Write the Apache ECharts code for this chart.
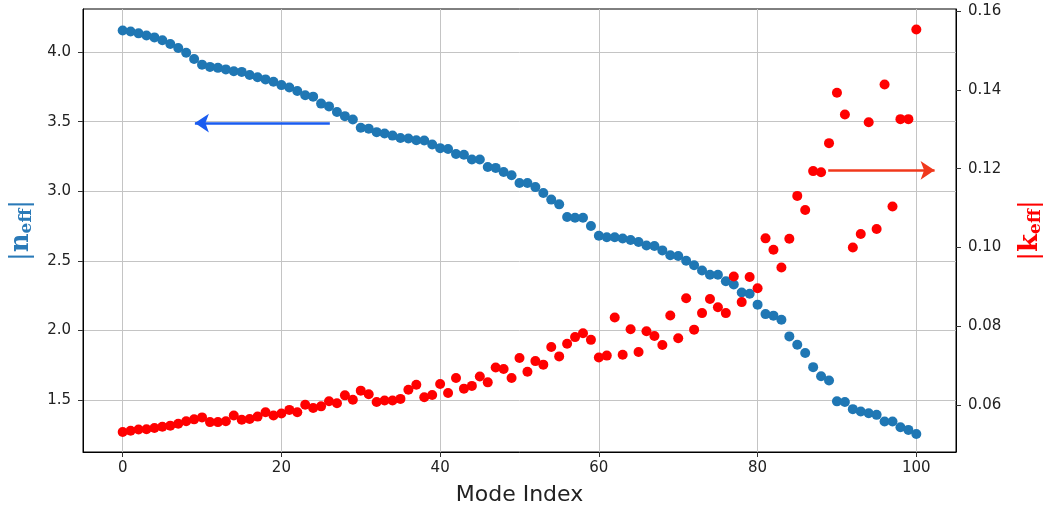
<!DOCTYPE html>
<html>
<head>
<meta charset="utf-8">
<script src="https://cdn.jsdelivr.net/npm/echarts@6/dist/echarts.min.js"></script>
<style>
  html, body { margin: 0; padding: 0; background: #fff; }
  #chart { width: 1046px; height: 512px; }
</style>
</head>
<body>
<div id="chart"></div>
<script>
// mode index 0..100
const modeIndex = Array.from({ length: 101 }, (_, i) => i)

// |n_eff| (left axis)
const nEff = [
  4.155, 4.148, 4.135, 4.12, 4.106, 4.086, 4.058, 4.03, 3.995, 3.95,
  3.91, 3.894, 3.887, 3.876, 3.863, 3.858, 3.835, 3.82, 3.804, 3.787,
  3.763, 3.746, 3.72, 3.69, 3.68, 3.63, 3.61, 3.57, 3.54, 3.516,
  3.456, 3.45, 3.425, 3.415, 3.40, 3.383, 3.379, 3.367, 3.365, 3.336,
  3.31, 3.304, 3.268, 3.263, 3.228, 3.228, 3.175, 3.168, 3.139, 3.115,
  3.06, 3.06, 3.03, 2.988, 2.94, 2.906, 2.815, 2.81, 2.81, 2.75,
  2.68, 2.67, 2.67, 2.66, 2.65, 2.635, 2.61, 2.606, 2.575, 2.54,
  2.535, 2.50, 2.468, 2.43, 2.40, 2.40, 2.353, 2.33, 2.273, 2.264,
  2.185, 2.117, 2.106, 2.077, 1.957, 1.897, 1.837, 1.736, 1.67, 1.64,
  1.49, 1.485, 1.434, 1.417, 1.405, 1.393, 1.345, 1.345, 1.304, 1.285,
  1.256
]

// |k_eff| (right axis)
const kEff = [
  0.0531, 0.0534, 0.0537, 0.0538, 0.0541, 0.0544, 0.0547, 0.0552, 0.0558, 0.0563,
  0.0568, 0.0556, 0.0556, 0.0558, 0.0573, 0.0562, 0.0564, 0.0570, 0.0581, 0.0573,
  0.0578, 0.0587, 0.0581, 0.0600, 0.0592, 0.0596, 0.0609, 0.0604, 0.0624, 0.0613,
  0.0636, 0.0627, 0.0607, 0.0611, 0.0611, 0.0615, 0.0638, 0.0651, 0.0619, 0.0625,
  0.0653, 0.0630, 0.0668, 0.0641, 0.0648, 0.0672, 0.0657, 0.0695, 0.0691, 0.0668,
  0.0719, 0.0684, 0.0711, 0.0702, 0.0747, 0.0723, 0.0755, 0.0772, 0.0782, 0.0765,
  0.0720, 0.0725, 0.0822, 0.0727, 0.0792, 0.0734, 0.0787, 0.0775, 0.0752, 0.0827,
  0.0769, 0.0871, 0.0791, 0.0833, 0.0869, 0.0848, 0.0833, 0.0926, 0.0861, 0.0925,
  0.0896, 0.1023, 0.0994, 0.0949, 0.1022, 0.1131, 0.1095, 0.1194, 0.1191, 0.1265,
  0.1393, 0.1338, 0.1000, 0.1034, 0.1318, 0.1047, 0.1414, 0.1104, 0.1326, 0.1326,
  0.1554
]

// tick labels
const xTicks = [0, 20, 40, 60, 80, 100]
const nTicks = [1.5, 2.0, 2.5, 3.0, 3.5, 4.0]
const kTicks = [0.06, 0.08, 0.10, 0.12, 0.14, 0.16]

// arrows [x0, y0, x1, y1] in data units
const nArrow = [26.1, 3.49, 9.1, 3.49]
const kArrow = [88.9, 0.1196, 102.3, 0.1196]

const blue = '#1f77b4'
const red = '#ff0000'
const labelStyle = { fontFamily: 'DejaVu Sans', fontSize: 15, color: '#222' }

const chart = echarts.init(document.getElementById('chart'))

chart.setOption({
  animation: false,
  backgroundColor: '#fff',
  grid: {
    left: 83, right: 90, top: 9, bottom: 60,
    show: true, borderColor: '#000', borderWidth: 1,
    outerBoundsMode: 'none'
  },
  xAxis: {
    type: 'value',
    min: -5, max: 105,
    name: 'Mode Index',
    nameLocation: 'middle',
    nameGap: 32,
    nameTextStyle: { fontFamily: 'DejaVu Sans', fontSize: 22, color: '#222' },
    axisLine: { onZero: false, lineStyle: { color: '#000' } },
    axisTick: { inside: false, length: 5, customValues: xTicks, lineStyle: { color: '#333' } },
    axisLabel: { ...labelStyle, margin: 9, customValues: xTicks },
    splitLine: { show: true, lineStyle: { color: '#c4c4c4', width: 1 } }
  },
  yAxis: [
    {
      type: 'value',
      min: 1.126, max: 4.31,
      position: 'left',
      name: '{bar||}{n|n}{sub|eff}{bar||}',
      nameLocation: 'middle',
      nameRotate: 90,
      nameGap: 48,
      nameTextStyle: {
        color: '#2a7ab8',
        rich: {
          bar: { fontFamily: 'DejaVu Serif', fontSize: 26, color: '#2a7ab8' },
          n: { fontFamily: 'DejaVu Serif', fontWeight: 'bold', fontSize: 26, color: '#2a7ab8' },
          sub: { fontFamily: 'DejaVu Serif', fontWeight: 'bold', fontSize: 17, color: '#2a7ab8', padding: [10, 0, 0, 0] }
        }
      },
      axisLine: { show: true, onZero: false, lineStyle: { color: '#000' } },
      axisTick: { show: true, length: 5, customValues: nTicks, lineStyle: { color: '#333' } },
      axisLabel: { ...labelStyle, margin: 12, customValues: nTicks, formatter: (v) => v.toFixed(1) },
      splitLine: { show: true, lineStyle: { color: '#c4c4c4', width: 1 } }
    },
    {
      type: 'value',
      min: 0.048, max: 0.1606,
      position: 'right',
      name: '{bar||}{k|k}{sub|eff}{bar||}',
      nameLocation: 'middle',
      nameRotate: 90,
      nameGap: 61,
      nameTextStyle: {
        color: red,
        rich: {
          bar: { fontFamily: 'DejaVu Serif', fontSize: 26, color: red },
          k: { fontFamily: 'DejaVu Serif', fontWeight: 'bold', fontSize: 26, color: red },
          sub: { fontFamily: 'DejaVu Serif', fontWeight: 'bold', fontSize: 17, color: red, padding: [10, 0, 0, 0] }
        }
      },
      axisLine: { show: true, onZero: false, lineStyle: { color: '#000' } },
      axisTick: { show: true, length: 5, customValues: kTicks, lineStyle: { color: '#333' } },
      axisLabel: { ...labelStyle, margin: 12, customValues: kTicks, formatter: (v) => v.toFixed(2) },
      splitLine: { show: false }
    }
  ],
  series: [
    {
      type: 'scatter',
      name: 'n_eff',
      yAxisIndex: 0,
      symbolSize: 10,
      itemStyle: { color: blue, opacity: 1 },
      data: modeIndex.map((i) => [i, nEff[i]]),
      markLine: {
        silent: true,
        symbol: ['none', 'arrow'],
        symbolSize: 14,
        label: { show: false },
        lineStyle: { color: '#1a5cf0', width: 2.5, type: 'solid' },
        data: [[{ coord: [nArrow[0], nArrow[1]] }, { coord: [nArrow[2], nArrow[3]] }]]
      }
    },
    {
      type: 'scatter',
      name: 'k_eff',
      yAxisIndex: 1,
      symbolSize: 10,
      itemStyle: { color: red, opacity: 1 },
      data: modeIndex.map((i) => [i, kEff[i]]),
      markLine: {
        silent: true,
        symbol: ['none', 'arrow'],
        symbolSize: 14,
        label: { show: false },
        lineStyle: { color: '#f0381c', width: 2.5, type: 'solid' },
        data: [[{ coord: [kArrow[0], kArrow[1]] }, { coord: [kArrow[2], kArrow[3]] }]]
      }
    }
  ]
})

window.addEventListener('resize', () => {
  chart.resize()
})
</script>
</body>
</html>
